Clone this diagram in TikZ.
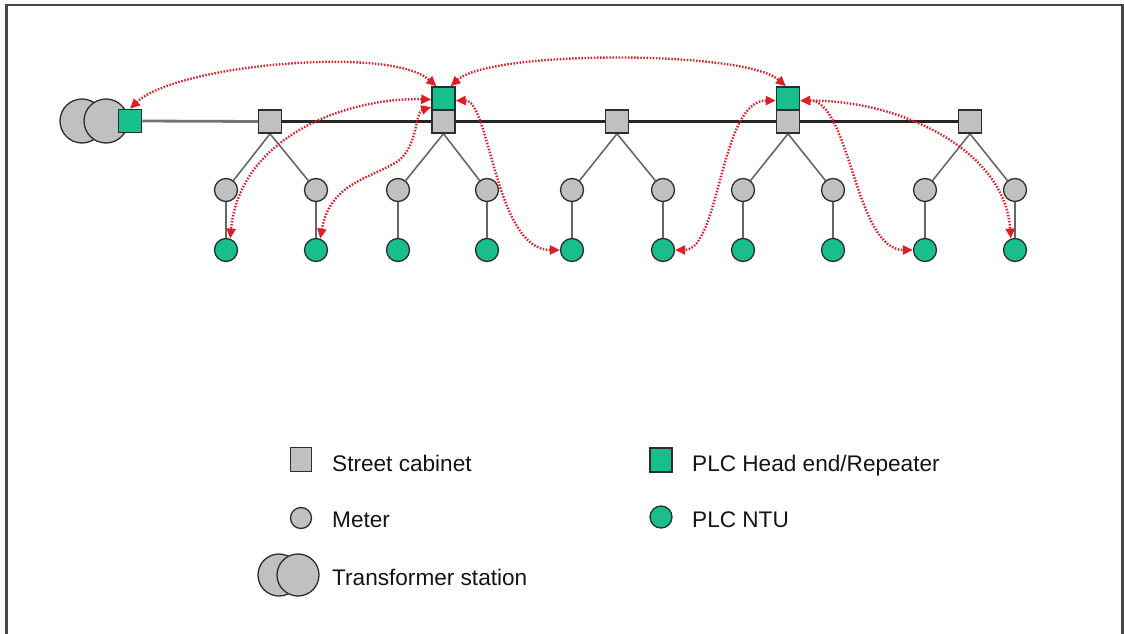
\documentclass[tikz,border=0pt]{standalone}
\usepackage{fontspec}
\setmainfont{Liberation Sans}
\usetikzlibrary{arrows.meta,backgrounds}
\definecolor{plcgreen}{RGB}{24,190,140}
\definecolor{boxgray}{RGB}{192,192,192}
\definecolor{edgegray}{RGB}{45,45,45}
\definecolor{linkred}{RGB}{222,30,38}
\definecolor{framegray}{RGB}{70,70,70}
\definecolor{textdark}{RGB}{20,20,20}

\begin{document}
\begin{tikzpicture}[x=1pt,y=-1pt,
  cabinet/.style={draw=edgegray, line width=1.5pt, fill=boxgray, minimum size=23pt, inner sep=0pt},
  headend/.style={cabinet, fill=plcgreen},
  meter/.style={circle, draw=edgegray, line width=1.3pt, fill=boxgray, minimum size=23pt, inner sep=0pt},
  ntu/.style={meter, fill=plcgreen},
  trafo/.style={circle, draw=edgegray, line width=1.3pt, fill=boxgray, minimum size=44pt, inner sep=0pt},
  trunk/.style={line width=2.2pt, draw=black!85},
  feeder/.style={line width=2.8pt, draw=black!55},
  branch/.style={line width=1.6pt, draw=black!60},
  link/.style={draw=linkred, line width=2.4pt, dash pattern=on 1.5pt off 1.6pt,
    {Triangle[length=10pt,width=9pt]}-{Triangle[length=10pt,width=9pt]}},
  legendtext/.style={anchor=base west, inner sep=0pt, text=textdark,
    font=\fontsize{22.6}{26}\selectfont}
]
\useasboundingbox (0,0) rectangle (1124,634);

% open frame (bottom edge lies outside the page)
\draw[framegray, line width=2.2pt] (6.5,640) -- (6.5,5) -- (1122.5,5) -- (1122.5,640);

% transformer station with its head end
\node[trafo] (tA) at (82,121) {};
\node[trafo] (tB) at (106,121) {};
\node[headend] (he1) at (130,121) {};

% street cabinets along the feeder, head ends/repeaters on top of two of them
\node[cabinet] (c1) at (270,121.5) {};
\node[cabinet] (c2) at (443.5,121.5) {};
\node[headend] (he2) at (443.5,98.5) {};
\node[cabinet] (c3) at (617,121.5) {};
\node[cabinet] (c4) at (788,121.5) {};
\node[headend] (he4) at (788,98.5) {};
\node[cabinet] (c5) at (970,121.5) {};

% meters and their PLC network termination units
\foreach \i/\x in {1/226,2/316,3/398,4/487,5/572,6/663,7/743,8/833,9/925,10/1015}{
  \node[meter] (m\i) at (\x,190) {};
  \node[ntu] (n\i) at (\x,250) {};
}

\begin{scope}[on background layer]
  \draw[feeder] (he1.east) -- (c1.west);
  \draw[trunk] (c1) -- (c2) -- (c3) -- (c4) -- (c5);
  \foreach \c/\a/\b in {c1/1/2,c2/3/4,c3/5/6,c4/7/8,c5/9/10}{
    \draw[branch] (\c.south) -- (m\a);
    \draw[branch] (\c.south) -- (m\b);
  }
  \foreach \i in {1,...,10}{
    \draw[branch] (m\i) -- (n\i);
  }
\end{scope}

% PLC communication paths
\draw[link] (he1.north) .. controls (175,65) and (390,45) .. (he2.120);
\draw[link] (he2.60) .. controls (490,50) and (745,50) .. (he4.100);
\draw[link] (he2.185) .. controls (350,97) and (240,135) .. (n1.70);
\draw[link] (he2.215) .. controls (415,112) and (418,150) .. (395,163)
  .. controls (365,180) and (330,185) .. (n2.70);
\draw[link] (he2.-10) .. controls (490,100) and (495,250) .. (n5.west);
\draw[link] (he4.190) .. controls (720,100) and (720,250) .. (n6.east);
\draw[link] (he4.-10) .. controls (850,100) and (855,250) .. (n9.west);
\draw[link] (he4.-10) .. controls (900,100) and (1005,150) .. (n10.110);

% legend
\node[cabinet, minimum width=21pt, minimum height=24pt] (lcab) at (301,459.5) {};
\node[legendtext] (lcabt) at (332,471) {Street cabinet};
\node[meter, minimum size=21pt] (lmet) at (301,518) {};
\node[legendtext] (lmett) at (332,527) {Meter};
\node[trafo, minimum size=42pt] (ltA) at (279,575) {};
\node[trafo, minimum size=42pt] (ltB) at (298,575) {};
\node[legendtext] (ltrt) at (332,585) {Transformer station};
\node[headend, minimum width=22pt, minimum height=24pt] (lhe) at (661,460) {};
\node[legendtext] (lhet) at (692,471) {PLC Head end/Repeater};
\node[ntu, minimum size=22pt] (lntu) at (661,517) {};
\node[legendtext] (lntut) at (692,527) {PLC NTU};
\end{tikzpicture}
\end{document}
